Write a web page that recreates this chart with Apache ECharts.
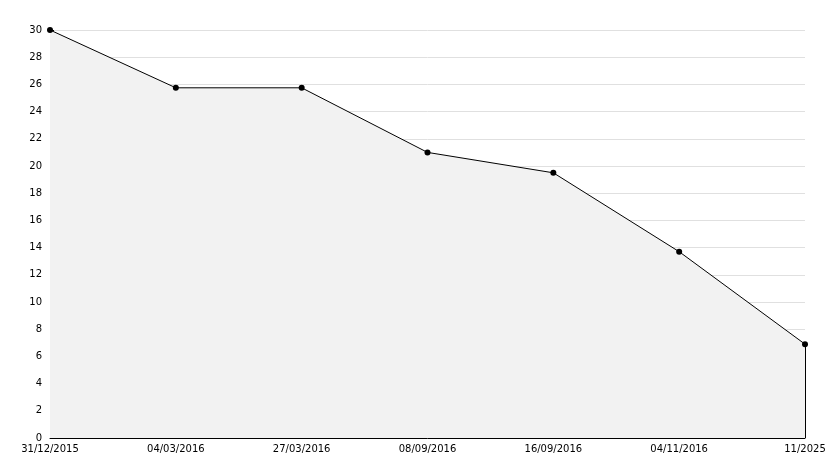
<!DOCTYPE html>
<html><head><meta charset="utf-8">
<script src="https://cdn.jsdelivr.net/npm/echarts@6/dist/echarts.min.js"></script>
<style>html,body{margin:0;padding:0;background:#fff}#c{width:834px;height:468px}</style>
</head><body><div id="c"></div>
<script>
var categories = ['31/12/2015','04/03/2016','27/03/2016','08/09/2016','16/09/2016','04/11/2016','11/2025'];
var values = [30, 25.75, 25.75, 21, 19.5, 13.7, 6.9];
var yMin = 0, yMax = 30, yStep = 2;

var chart = echarts.init(document.getElementById('c'), null, {renderer:'canvas'});
var lastCat = categories[categories.length-1];
var lastVal = values[values.length-1];
chart.setOption({
  animation:false,
  backgroundColor:'#fff',
  grid:{left:50,right:29,top:30,bottom:30,containLabel:false},
  xAxis:{
    type:'category', data:categories, boundaryGap:false,
    axisLine:{lineStyle:{color:'#000',width:1}},
    axisTick:{inside:true,length:5,lineStyle:{color:'#000'}},
    axisLabel:{color:'#000',fontFamily:'DejaVu Sans',fontSize:10,margin:6,interval:0},
    splitLine:{show:false}
  },
  yAxis:{
    type:'value', min:yMin, max:yMax, interval:yStep,
    axisLine:{show:true,lineStyle:{color:'#000',width:1}},
    axisTick:{show:true,inside:true,length:4,lineStyle:{color:'#000'}},
    minorTick:{show:true,splitNumber:2,length:4,lineStyle:{color:'#000'}},
    axisLabel:{color:'#000',fontFamily:'DejaVu Sans',fontSize:10,margin:8},
    splitLine:{show:true,lineStyle:{color:'#e0e0e0',width:1}}
  },
  series:[{
    type:'line', data:values,
    symbol:'circle', symbolSize:6,
    itemStyle:{color:'#000'},
    lineStyle:{color:'#000',width:1},
    areaStyle:{color:'#f2f2f2',opacity:1},
    markLine:{
      silent:true, symbol:['none','none'],
      lineStyle:{color:'#000',width:1,type:'solid'},
      label:{show:false},
      data:[[{coord:[lastCat,0]},{coord:[lastCat,lastVal]}]]
    }
  }]
});
</script></body></html>
